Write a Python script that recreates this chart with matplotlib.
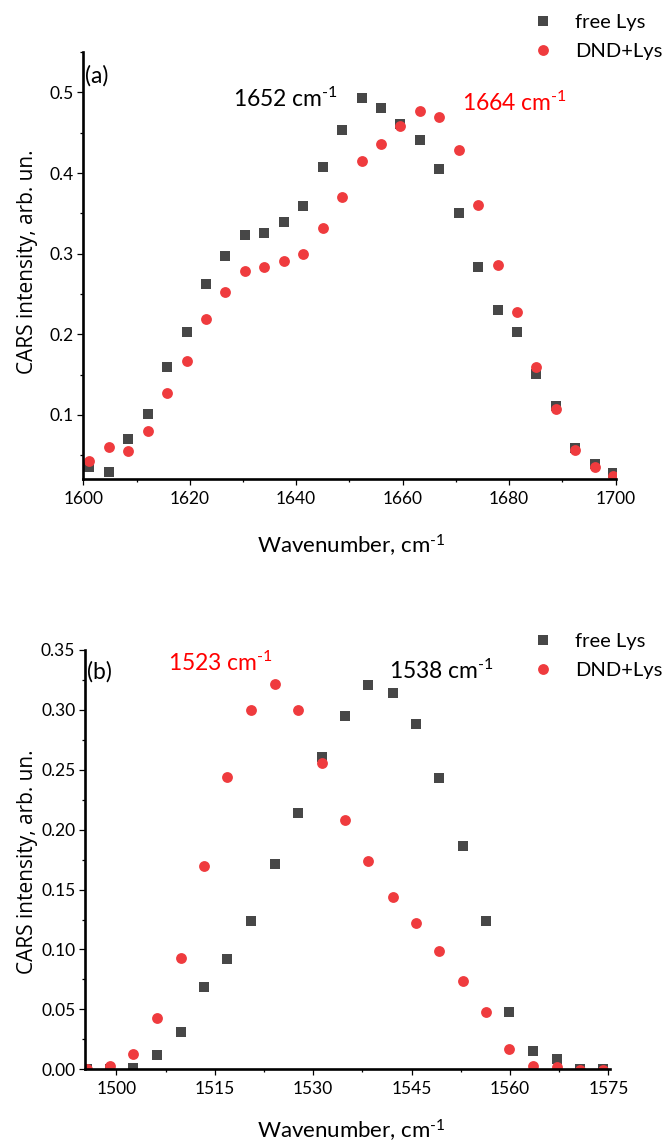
import matplotlib

matplotlib.use("Agg")
import matplotlib.pyplot as plt
from matplotlib.ticker import MultipleLocator, FormatStrFormatter

plt.rcParams["font.family"] = ["Lato", "DejaVu Sans"]
plt.rcParams["mathtext.fontset"] = "custom"
plt.rcParams["mathtext.rm"] = "Lato"
plt.rcParams["mathtext.it"] = "Lato:italic"
plt.rcParams["mathtext.bf"] = "Lato:bold"

# ---- panel (a): amide I region ----
wn_a = [1601.0, 1604.75, 1608.45, 1612.2, 1615.8, 1619.4, 1623.1, 1626.7, 1630.4,
        1634.0, 1637.7, 1641.3, 1645.0, 1648.6, 1652.3, 1655.9, 1659.6, 1663.3,
        1666.9, 1670.6, 1674.2, 1677.9, 1681.5, 1685.1, 1688.8, 1692.4, 1696.1,
        1699.6]
free_a = [0.036, 0.029, 0.070, 0.101, 0.159, 0.203, 0.262, 0.297, 0.323, 0.326,
          0.339, 0.359, 0.408, 0.454, 0.493, 0.481, 0.461, 0.441, 0.405, 0.350,
          0.284, 0.230, 0.203, 0.151, 0.111, 0.059, 0.039, 0.028]
dnd_a = [0.043, 0.060, 0.055, 0.080, 0.127, 0.167, 0.219, 0.253, 0.279, 0.284,
         0.291, 0.300, 0.332, 0.370, 0.415, 0.436, 0.458, 0.477, 0.470, 0.429,
         0.360, 0.286, 0.228, 0.160, 0.107, 0.056, 0.035, 0.024]

# ---- panel (b): 1500-1575 region ----
wn_b = [1495.6, 1499.0, 1502.5, 1506.2, 1509.8, 1513.4, 1516.9, 1520.5, 1524.2,
        1527.7, 1531.3, 1534.9, 1538.4, 1542.1, 1545.6, 1549.2, 1552.8, 1556.4,
        1559.9, 1563.5, 1567.1, 1570.7, 1574.2]
free_b = [0.0, 0.0, 0.001, 0.012, 0.031, 0.069, 0.092, 0.124, 0.171, 0.214, 0.261,
          0.295, 0.321, 0.314, 0.288, 0.243, 0.186, 0.124, 0.048, 0.015, 0.009,
          0.0, 0.0]
dnd_b = [0.0, 0.003, 0.013, 0.043, 0.093, 0.170, 0.244, 0.300, 0.322, 0.300, 0.256,
         0.208, 0.174, 0.144, 0.122, 0.099, 0.074, 0.048, 0.017, 0.003, 0.002,
         -0.001, -0.001]

labels = ["free Lys", "DND+Lys"]
peaks_a = ["1652", "1664"]
peaks_b = ["1523", "1538"]
UNIT = " cm$^{\\text{-1}}$"

W, H = 667, 1144
SQ_COLOR = "#474747"
RED = "#ef3b3e"


def fx(x):
    return x / W


def fy(y):
    return 1 - y / H


fig = plt.figure(figsize=(W / 100, H / 100), dpi=100)
ax_a = fig.add_axes([fx(83.3), fy(479), (615.5 - 83.3) / W, (479 - 51.7) / H])
ax_b = fig.add_axes([fx(84.8), fy(1069.3), (609.8 - 84.8) / W, (1069.3 - 650) / H])


def style(ax):
    for side in ("top", "right"):
        ax.spines[side].set_visible(False)
    for side in ("left", "bottom"):
        ax.spines[side].set_linewidth(1.9)
    ax.tick_params(which="major", direction="out", length=4.3, width=0.9,
                   labelsize=12.5, pad=2.5)
    ax.tick_params(which="minor", direction="out", length=2.5, width=0.9)
    ax.tick_params(axis="x", which="major", pad=4)


for ax, wn, fr, dn in ((ax_a, wn_a, free_a, dnd_a), (ax_b, wn_b, free_b, dnd_b)):
    ax.plot(wn, fr, ls="none", marker="s", ms=7, mew=0, color=SQ_COLOR, label=labels[0])
    ax.plot(wn, dn, ls="none", marker="o", ms=7.8, mew=0, color=RED, label=labels[1])
    style(ax)

ax_a.set_xlim(1600, 1700)
ax_a.set_ylim(0.0206, 0.5505)
ax_a.xaxis.set_major_locator(MultipleLocator(20))
ax_a.xaxis.set_minor_locator(MultipleLocator(10))
ax_a.yaxis.set_major_locator(MultipleLocator(0.1))
ax_a.yaxis.set_minor_locator(MultipleLocator(0.05))
ax_a.yaxis.set_major_formatter(FormatStrFormatter("%.1f"))

ax_b.set_xlim(1495.2, 1575.2)
ax_b.set_ylim(0, 0.35)
ax_b.xaxis.set_major_locator(MultipleLocator(15))
ax_b.xaxis.set_minor_locator(MultipleLocator(7.5))
ax_b.yaxis.set_major_locator(MultipleLocator(0.05))
ax_b.yaxis.set_minor_locator(MultipleLocator(0.025))
ax_b.yaxis.set_major_formatter(FormatStrFormatter("%.2f"))

# axis labels placed at measured pixel positions (baseline)
for yb in (554, 1139):
    fig.text(fx(351), fy(yb), "Wavenumber," + UNIT, ha="center", va="baseline",
             fontsize=16)
for yc in (262, 862):
    fig.text(fx(27.5), fy(yc), "CARS intensity, arb. un.", rotation=90,
             ha="center", va="center", fontsize=15, family=["Open Sans", "DejaVu Sans"])

# legends
for ax, y_top in ((ax_a, 14), (ax_b, 633)):
    ax.legend(loc="upper left", bbox_to_anchor=(fx(533), fy(y_top)),
              bbox_transform=fig.transFigure, frameon=False, fontsize=14.5,
              handlelength=1.0, handletextpad=1.1, labelspacing=0.6,
              borderpad=0, borderaxespad=0)

# panel letters and peak positions
fig.text(fx(85.5), fy(76), "(a)", fontsize=16.5, ha="left", va="center")
fig.text(fx(232.6), fy(99), peaks_a[0] + UNIT, fontsize=16.5, ha="left",
         va="center", color="black")
fig.text(fx(461.9), fy(103), peaks_a[1] + UNIT, fontsize=16.5, ha="left",
         va="center", color="red")
fig.text(fx(87.5), fy(671.7), "(b)", fontsize=16.5, ha="left", va="center")
fig.text(fx(168.4), fy(662.5), peaks_b[0] + UNIT, fontsize=16.5, ha="left",
         va="center", color="red")
fig.text(fx(388.6), fy(670.5), peaks_b[1] + UNIT, fontsize=16.5, ha="left",
         va="center", color="black")

fig.savefig("out.png", dpi=100)
